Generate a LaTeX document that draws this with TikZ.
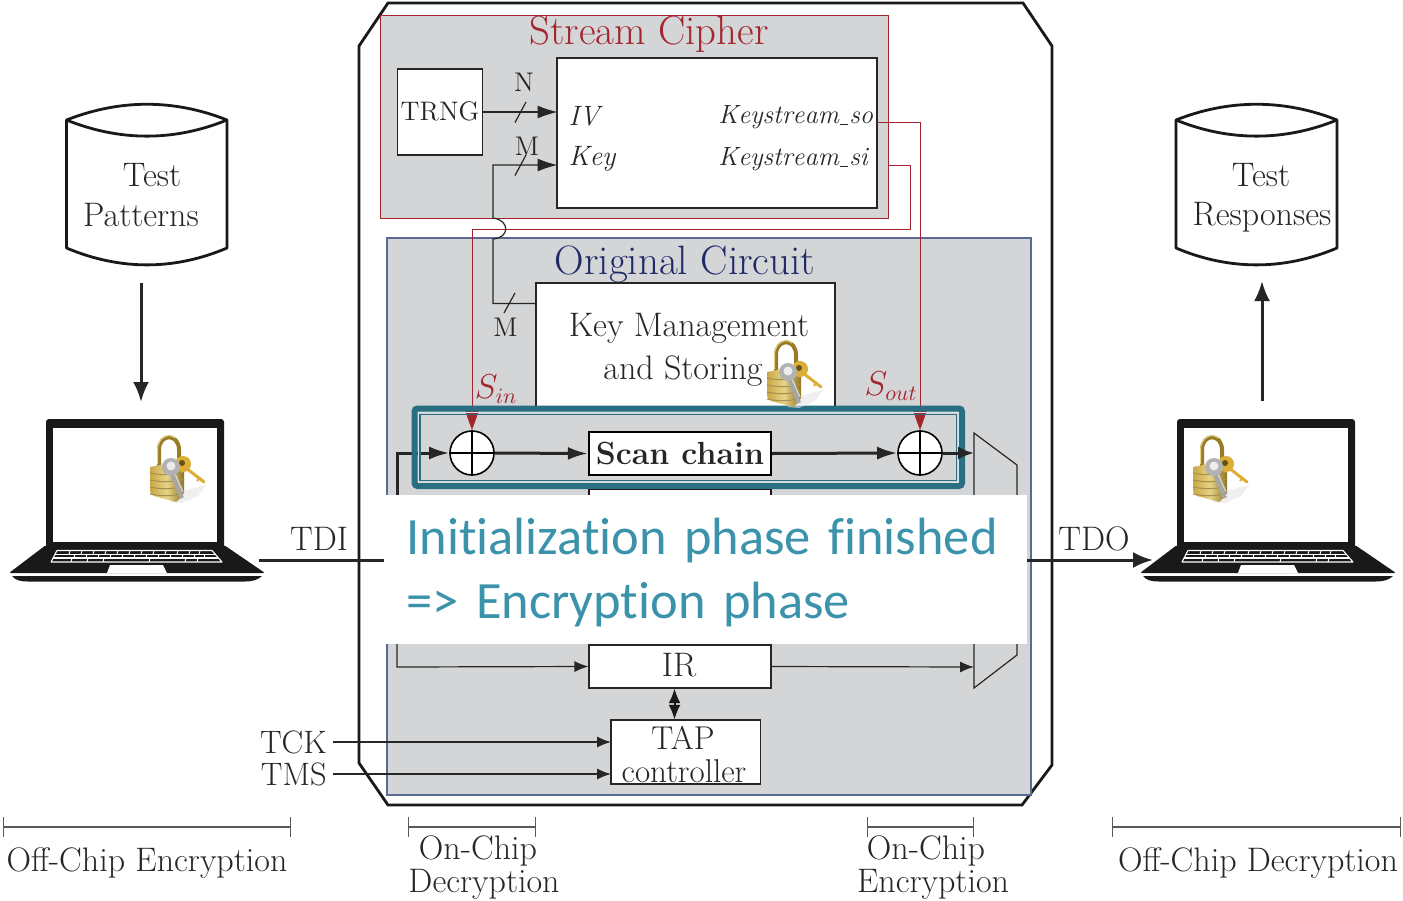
\documentclass[tikz,border=0pt]{standalone}
\usepackage{fontspec}
\usetikzlibrary{arrows.meta,calc}
\newfontfamily\banfont[Ligatures=NoCommon,WordSpace=0.85]{Carlito}
\definecolor{panel}{HTML}{D4D5D7}
\definecolor{cipherred}{HTML}{A3262F}
\definecolor{navyc}{HTML}{1F2A66}
\definecolor{navyb}{HTML}{5A6A94}
\definecolor{ink}{HTML}{262626}
\definecolor{tealbar}{HTML}{2A6E82}
\definecolor{banteal}{HTML}{3A92AB}
\definecolor{goldA}{HTML}{C9A845}
\definecolor{goldB}{HTML}{8F7420}
\definecolor{goldC}{HTML}{E6D388}
\definecolor{goldK}{HTML}{DDAE35}
\newcommand{\usc}{\kern0.6pt\rule[-0.7pt]{4pt}{0.4pt}\kern0.6pt}
\tikzset{
  x=0.5pt,y=-0.5pt,
  txt/.style={inner sep=0pt,text=ink,font=\fontsize{17}{19}\selectfont},
  box/.style={draw=ink,fill=white,line width=0.55pt,inner sep=0pt},
  thinline/.style={draw=ink,line width=0.6pt},
  thickline/.style={draw=black!85,line width=1.5pt},
  redline/.style={draw=cipherred,line width=0.5pt},
  tip/.style={-{Latex[length=7pt,width=5.5pt]}},
  tipb/.style={-{Latex[length=10pt,width=6.5pt]}},
  bigtip/.style={-{Latex[length=10pt,width=8pt]}},
  redtip/.style={-{Triangle[length=10pt,width=7pt,cipherred]}},
  xorc/.style={draw=black,fill=white,circle,line width=0.8pt,minimum size=22pt,inner sep=0pt},
  bracket/.style={draw=black!65,line width=0.6pt,{Bar[width=10pt]}-{Bar[width=10pt]}},
  padlock/.pic={
    \fill[gray!20,opacity=.6] (30,72) -- (46,60) -- (66,55) -- (58,66) -- (42,73) -- cycle;
    \draw[goldB!85!goldA,line width=2pt,line cap=round] (19,36) -- (19,20) .. controls (19,3) and (39,3) .. (39,20) -- (39,34);
    \draw[goldC,line width=0.5pt] (17.5,34) -- (17.5,20) .. controls (18,6) and (30,3) .. (35,8);
    \shade[left color=goldA,right color=goldB,middle color=goldC]
      (10,37) -- (30,33) -- (44,36) -- (44,62) .. controls (43,65) and (40,69) .. (36,72) -- (14,66) .. controls (11,65) and (10,63) .. (10,60) -- cycle;
    \foreach \yy in {43,50,57,64} \draw[goldB!80,line width=0.5pt] (10,\yy) .. controls (20,\yy+2) and (30,\yy+3) .. (44,\yy-1);
    \draw[goldK,line width=1.5pt,line cap=round] (46,38) -- (64,52);
    \draw[goldK,line width=1pt] (60,47) -- (57,51);
    \fill[goldK] (43,34) circle[radius=8];
    \fill[goldB!70!black] (42,33) circle[radius=3];
    \draw[gray!70,line width=2pt] (32,44) -- (42,68);
    \draw[gray!35,line width=0.7pt] (35,44) -- (43,62);
    \fill[gray!60] (31,37) circle[radius=9];
    \fill[white!85!gray] (31,36) circle[radius=4.5];
  },
  laptop/.pic={
    \fill[black!90,rounded corners=1.5pt] (46,419) rectangle (224,548);
    \fill[white] (53,428) rectangle (217,542);
    \fill[black!90,rounded corners=1pt] (46,545) -- (224,545) -- (265,573) -- (9,573) -- cycle;
    \fill[black!90] (12,576) -- (262,576) .. controls (258,580) and (252,581.5) .. (245,581.5) -- (28,581.5) .. controls (20,581.5) and (15,580) .. (12,576) -- cycle;
    \draw[white,line width=0.55pt,line join=round] (57,550.5) -- (212,550.5) -- (222,562) -- (51,562) -- cycle;
    \draw[white,line width=0.55pt] (55,554.2) -- (215,554.2) (53,558) -- (218,558);
    \foreach \xx in {70,82,94,106,118,130,142,154,166,178,190,200}{
      \draw[white,line width=0.45pt] (\xx,551) -- (\xx-1,554);
      \draw[white,line width=0.45pt] (\xx+5,554) -- (\xx+4,558);
    }
    \foreach \xx in {72,88,104,150,186,198} \draw[white,line width=0.45pt] (\xx,558) -- (\xx-1,562);
    \fill[white] (110,565) -- (163,565) -- (167,573) -- (107,573) -- cycle;
  }
}
\begin{document}
\begin{tikzpicture}
\useasboundingbox (0,0) rectangle (1403,900);
\fill[white] (0,0) rectangle (1403,900);

% chip outline
\draw[black!90,line width=1.4pt,line join=miter] (388,3) -- (1023,3) -- (1052,46) -- (1052,765) -- (1022,805) -- (388,805) -- (359,763) -- (359,46) -- cycle;

% panels
\node[draw=cipherred,fill=panel,line width=0.5pt,inner sep=0pt,minimum width=254pt,minimum height=101.5pt] (cipher) at (634,116.5) {};
\node[draw=navyb,fill=panel,line width=0.55pt,inner sep=0pt,minimum width=322pt,minimum height=278.5pt] (orig) at (709,516.5) {};
\node[inner sep=0pt,text=cipherred,font=\fontsize{20.4}{23}\selectfont] (ciphertitle) at (649,34) {Stream Cipher};
\node[inner sep=0pt,text=navyc,font=\fontsize{20.5}{23}\selectfont] (origtitle) at (685,264) {Original Circuit};

% boxes
\node[box,minimum width=42.75pt,minimum height=43pt] (trng) at (440,112) {};
\node[txt,font=\fontsize{13.4}{15}\selectfont] (trngt) at (440,111) {TRNG};
\node[box,minimum width=160pt,minimum height=75pt] (sc) at (717,133) {};
\node[box,minimum width=149.5pt,minimum height=62pt] (km) at (685.5,345) {};
\node[txt,font=\fontsize{17}{19}\selectfont] (kmta) at (689,328) {Key Management};
\node[txt,font=\fontsize{17}{19}\selectfont] (kmtb) at (683,371) {and Storing};
\node[box,draw=black,line width=1.2pt,minimum width=91pt,minimum height=21.5pt] (scan) at (680,453.5) {};
\node[txt,font=\fontsize{16}{18}\bfseries\selectfont] (scant) at (680,454) {Scan chain};
\node[box,draw=black!70!cipherred,minimum width=91pt,minimum height=51pt] (hiddenbox) at (680,540) {};
\node[box,minimum width=91pt,minimum height=21.5pt] (ir) at (680,666.5) {};
\node[txt] (irt) at (679,665) {IR};
\node[box,minimum width=74.75pt,minimum height=32pt] (tap) at (685.75,752) {};
\node[txt,font=\fontsize{16.5}{18}\selectfont] (tapta) at (683,738) {TAP};
\node[txt,font=\fontsize{16.5}{18}\selectfont] (taptb) at (684,771) {controller};
\node[xorc] (xl) at (472,453) {};
\node[xorc] (xr) at (920,453) {};
\draw[black,line width=0.7pt] (xl.north) -- (xl.south) (xl.west) -- (xl.east);
\draw[black,line width=0.7pt] (xr.north) -- (xr.south) (xr.west) -- (xr.east);

% mux
\coordinate (muxa) at (974,453);
\coordinate (muxb) at (974,667);
\coordinate (muxr) at (1017,560);
\draw[thinline,fill=panel] (974,433) -- (1017,465) -- (1017,655) -- (974,688) -- cycle;

% port labels
\node[txt,anchor=center,font=\fontsize{14}{16}\selectfont] (iv) at (584,116) {$\mathit{IV}$};
\node[txt,anchor=center,font=\fontsize{14}{16}\selectfont] (keyp) at (592,159) {$\mathit{Key}$};
\node[txt,anchor=west,font=\fontsize{13.2}{16}\selectfont] (kso) at (718,117) {$\mathit{Keystream}$\usc$\mathit{so}$};
\node[txt,anchor=west,font=\fontsize{13.2}{16}\selectfont] (ksi) at (718,159) {$\mathit{Keystream}$\usc$\mathit{si}$};
\node[txt,font=\fontsize{13.5}{15}\selectfont] (nlab) at (524,82) {N};
\node[txt,font=\fontsize{13.5}{15}\selectfont] (mlab) at (527,146) {M};
\node[txt,font=\fontsize{13.5}{15}\selectfont] (mlabb) at (505.5,327) {M};

% red connectors
\coordinate (kso1) at (877,122.5);
\coordinate (ksi1) at (888,165);
\draw[redline,redtip] (kso1) -| (xr.north);
\draw[redline,redtip] (ksi1) -- (910,165) -- (910,229) -- (472,229) -- (xl.north);

% key connector
\coordinate (scport) at (557.5,165);
\coordinate (kmport) at (536,303.5);
\coordinate (ivport) at (557.5,112);
\coordinate (trngout) at (483,112);
\draw[thinline,tipb] (kmport) -- (493,303.5) -- (493,239) .. controls (510,238) and (510,220) .. (493,218) -- (493,165) -- (scport);
\draw[thinline,tipb] (trngout) -- (ivport);
\draw[thinline] (515,122.5) -- (526,102);
\draw[thinline] (515,175.5) -- (526,155);
\draw[thinline] (504,313) -- (515,293);

\node[inner sep=0pt,text=cipherred,font=\fontsize{16}{18}\selectfont] (sin) at (496,389) {$S_{in}$};
\node[inner sep=0pt,text=cipherred,font=\fontsize{16}{18}\selectfont] (sout) at (891,386) {$S_{out}$};

% scan path
\coordinate (jn) at (397,560);
\draw[thickline,tipb] (jn) -- (397,453) -- (xl.west);
\draw[thickline,tipb] (xl.east) -- (scan.west);
\draw[thickline,tipb] (scan.east) -- (xr.west);
\draw[thinline,tip] (jn) -- (397,667) -- (ir.west);
\draw[thinline,tip] (ir.east) -- (muxb);
\draw[black!90,line width=1pt,{Latex[length=7.3pt,width=6pt]}-{Latex[length=7.3pt,width=6pt]}] (ir.south -| 674.5,0) -- (tap.north -| 674.5,0);

% TCK TMS
\node[txt,anchor=east,font=\fontsize{16.2}{18}\selectfont] (tck) at (327,742) {TCK};
\node[txt,anchor=east,font=\fontsize{16.2}{18}\selectfont] (tms) at (327,774) {TMS};
\coordinate (tapa) at (611,742);
\coordinate (tapb) at (611,774);
\draw[thinline,tip] (333,742) -- (tapa);
\draw[thinline,tip] (333,774) -- (tapb);

% TDI TDO
\coordinate (lapl) at (259,560);
\coordinate (lapr) at (1153,560);
\draw[thickline] (lapl) -- (jn);
\draw[thickline,bigtip] (muxr) -- (lapr);
\node[txt] (tdi) at (319,539) {TDI};
\node[txt] (tdo) at (1094,539) {TDO};

% teal highlight
\draw[tealbar,line width=3pt,rounded corners=1.5pt] (414.5,408.5) rectangle (962,486);
\draw[white!80!tealbar,line width=0.5pt] (418.5,412.5) rectangle (958,482);
\draw[tealbar,line width=0.6pt] (420,414.5) rectangle (956.5,480.5);
\draw[thickline,-{Latex[length=8pt,width=6.5pt]}] (xr.east) -- (muxa);

% banner
\node[fill=white,inner sep=0pt,anchor=north west,minimum width=321.5pt,minimum height=74.5pt] (banner) at (384,495) {};
\node[inner sep=0pt,anchor=west,text width=310pt,align=left,text=banteal,font=\fontsize{26.2}{32}\selectfont\banfont] (bannertext) at (406,572.5) {Initialization phase finished\\=> Encryption phase};

% databases
\draw[black!90,line width=1.4pt,line join=round,fill=white] (66.5,120) .. controls (120,99) and (174,99) .. (227,120) -- (227,248) .. controls (174,270.5) and (120,270.5) .. (66.5,248) -- cycle;
\draw[black!90,line width=1.4pt] (66.5,120) .. controls (120,141.5) and (174,141.5) .. (227,120);
\draw[black!90,line width=1.4pt,line join=round,fill=white] (1176,120) .. controls (1229,99) and (1284,99) .. (1337,120) -- (1337,248) .. controls (1284,270.5) and (1229,270.5) .. (1176,248) -- cycle;
\draw[black!90,line width=1.4pt] (1176,120) .. controls (1229,141.5) and (1284,141.5) .. (1337,120);
\node[txt] (dba) at (152,175) {Test};
\node[txt] (dbb) at (141,215) {Patterns};
\node[txt] (dbc) at (1261,175) {Test};
\node[txt] (dbd) at (1262,217) {Responses};
\coordinate (ala) at (141,283);
\coordinate (alb) at (141,402);
\coordinate (ara) at (1262,401);
\coordinate (arb) at (1262,281);
\draw[thickline,bigtip] (ala) -- (alb);
\draw[thickline,bigtip] (ara) -- (arb);

% laptops and locks
\pic at (0,0) {laptop};
\pic at (1131,0) {laptop};
\pic at (140,430) {padlock};
\pic at (1183,430) {padlock};
\pic at (757,335) {padlock};

% scale brackets
\draw[bracket] (3,827) -- (291,827);
\draw[bracket] (408,827) -- (536,827);
\draw[bracket] (867,827) -- (974,827);
\draw[bracket] (1112,827) -- (1401,827);
\node[txt] (offa) at (147,863) {Off-Chip Encryption};
\node[txt] (ona) at (478,851) {On-Chip};
\node[txt] (onb) at (484,884) {Decryption};
\node[txt] (onc) at (926,851) {On-Chip};
\node[txt] (ond) at (933,884) {Encryption};
\node[txt] (offb) at (1258,863) {Off-Chip Decryption};
\end{tikzpicture}
\end{document}
